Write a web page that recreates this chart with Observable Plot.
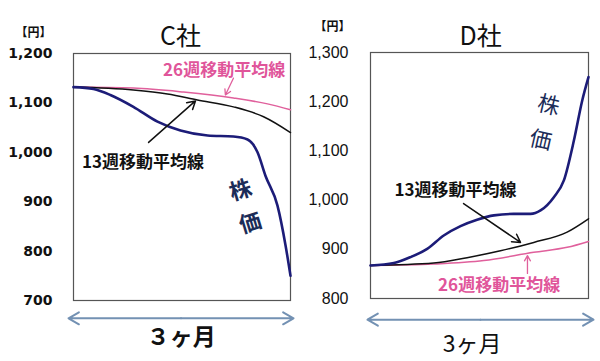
<!DOCTYPE html>
<html><head><meta charset="utf-8">
<script src="https://cdn.jsdelivr.net/npm/d3@7"></script>
<script src="https://cdn.jsdelivr.net/npm/@observablehq/plot@0.6"></script>
<style>
body{margin:0;background:#fff;}
#wrap{position:relative;width:600px;height:361px;overflow:hidden;}
#left,#right{position:absolute;top:0;}
#left{left:0;} #right{left:300px;}
</style></head>
<body><div id="wrap"><div id="left"></div><div id="right"></div></div>
<script>
// ---- C社 data (x = % of 3 months, y = yen)
const cT      = [0, 9.2, 17, 27.6, 38.7, 49.3, 61.8, 73.7, 80.2, 84.8, 88.5, 94, 97.7, 100];
const cPrice  = [1132, 1128, 1116, 1092, 1062, 1044, 1034, 1032, 1026, 1000, 952, 892, 812, 750];
const cMa13T  = [0, 27.6, 43.3, 57.1, 73.7, 87.6, 100];
const cMa13   = [1132, 1126, 1118, 1106, 1092, 1072, 1040];
const cMa26T  = [0, 27.6, 50.7, 73.7, 89.4, 100];
const cMa26   = [1132, 1130, 1122, 1110, 1098, 1086];
const cTicks  = [700, 800, 900, 1000, 1100, 1200];

// ---- D社 data
const dT      = [0, 10.7, 18.3, 26, 33.6, 41.3, 48.9, 56.6, 65.7, 73.4, 78, 84.1, 88.7, 93.3, 97.1, 100];
const dPrice  = [867, 872, 884, 901, 928, 947, 960, 969, 972, 972, 979, 1006, 1040, 1121, 1202, 1250];
const dMa13T  = [0, 29, 44.3, 59.6, 74.9, 90.2, 100];
const dMa13   = [867, 872, 883, 897, 914, 935, 962];
const dMa26T  = [0, 29, 52, 74.9, 90.2, 100];
const dMa26   = [867, 870, 877, 894, 904, 916];
const dTicks  = [800, 900, 1000, 1100, 1200, 1300];

// ---- texts
const titles = ["C社", "D社"];
const unitLabel = "【円】";
const ma13Label = "13週移動平均線";
const ma26Label = "26週移動平均線";
const priceChars = ["株", "価"];
const periodLabels = ["３ヶ月", "3ヶ月"];

const toRows = (xs, ys) => xs.map((x, i) => ({x, y: ys[i]}));
const navy = "#1c1c78", pink = "#e0609c", pinkText = "#e0559a", blue = "#7391b3";

function panel(o) {
  return Plot.plot({
    width: 300, height: 361,
    marginLeft: o.ml, marginRight: o.mr, marginTop: o.mt, marginBottom: o.mb,
    x: {domain: [0, 100], axis: null},
    y: {domain: o.domain},
    style: {fontFamily: o.axisFont, background: "transparent"},
    marks: [
      Plot.frame({stroke: "#555", strokeWidth: 1.2}),
      Plot.axisY(o.ticks, {tickSize: 0, tickPadding: o.pad, tickFormat: d3.format(","),
        fontSize: o.axisSize, fontWeight: o.axisWeight, fill: "#111", label: null}),
      Plot.line(toRows(o.ma26T, o.ma26), {x: "x", y: "y", stroke: pink, strokeWidth: 1.5, curve: "monotone-x"}),
      Plot.line(toRows(o.ma13T, o.ma13), {x: "x", y: "y", stroke: "#111", strokeWidth: 1.5, curve: "monotone-x"}),
      Plot.line(toRows(o.t, o.price), {x: "x", y: "y", stroke: navy, strokeWidth: 2.6, curve: "monotone-x"}),
      // annotations
      Plot.text([o.l26], {x: d => d[0], y: d => d[1], text: [ma26Label], fill: pinkText,
        fontSize: 17, fontWeight: "bold", fontFamily: "Noto Sans CJK JP"}),
      Plot.text([o.l13], {x: d => d[0], y: d => d[1], text: [ma13Label], fill: "#111",
        fontSize: 17, fontWeight: "bold", fontFamily: "Noto Sans CJK JP"}),
      Plot.arrow([o.a26], {x1: d => d[0], y1: d => d[1], x2: d => d[2], y2: d => d[3],
        stroke: pink, strokeWidth: 1.3, headLength: 8}),
      Plot.arrow([o.a13], {x1: d => d[0], y1: d => d[1], x2: d => d[2], y2: d => d[3],
        stroke: "#111", strokeWidth: 1.5, headLength: 9}),
      Plot.text([o.k1], {x: d => d[0], y: d => d[1], text: [priceChars[0]], rotate: o.rot,
        fill: "#1b2c58", fontSize: 22, fontWeight: o.kWeight, fontFamily: "Noto Sans CJK JP"}),
      Plot.text([o.k2], {x: d => d[0], y: d => d[1], text: [priceChars[1]], rotate: o.rot,
        fill: "#1b2c58", fontSize: 22, fontWeight: o.kWeight, fontFamily: "Noto Sans CJK JP"}),
      // title, unit
      Plot.text([o.title], {x: d => d[0], y: d => d[1], text: [o.titleText], fill: "#111",
        fontSize: 25, fontFamily: "Noto Sans CJK JP"}),
      Plot.text([o.unit], {x: d => d[0], y: d => d[1], text: [unitLabel], fill: "#111",
        fontSize: 12, fontWeight: "bold", fontFamily: "Noto Sans CJK JP"}),
      // bottom period arrow (double headed)
      Plot.arrow([o.period], {x1: d => (d[0] + d[1]) / 2, y1: d => d[2], x2: d => d[0], y2: d => d[2],
        stroke: blue, strokeWidth: 2, headLength: 9}),
      Plot.arrow([o.period], {x1: d => (d[0] + d[1]) / 2, y1: d => d[2], x2: d => d[1], y2: d => d[2],
        stroke: blue, strokeWidth: 2, headLength: 9}),
      Plot.text([o.pl], {x: d => d[0], y: d => d[1], text: [o.plText], fill: "#111",
        fontSize: 23, fontWeight: o.plWeight, fontFamily: "Noto Sans CJK JP"})
    ]
  });
}

document.getElementById("left").appendChild(panel({
  ml: 73, mr: 10, mt: 53, mb: 61, domain: [700, 1200], ticks: cTicks, pad: 21,
  axisFont: "DejaVu Sans", axisSize: 14, axisWeight: "bold",
  t: cT, price: cPrice, ma13T: cMa13T, ma13: cMa13, ma26T: cMa26T, ma26: cMa26,
  l26: [69.4, 1166], l13: [32, 980],
  a26: [73.7, 1150, 70.0, 1116], a13: [34.6, 1020, 56.2, 1104],
  k1: [77, 922], k2: [81.6, 856], rot: -17, kWeight: "bold",
  title: [49.3, 1234], titleText: titles[0], unit: [-18.4, 1242],
  period: [-2.3, 101.4, 664], pl: [49.7, 624], plText: periodLabels[0], plWeight: "bold"
}));

document.getElementById("right").appendChild(panel({
  ml: 70, mr: 12, mt: 52, mb: 63, domain: [800, 1300], ticks: dTicks, pad: 22,
  axisFont: "Liberation Sans", axisSize: 16, axisWeight: "normal",
  t: dT, price: dPrice, ma13T: dMa13T, ma13: dMa13, ma26T: dMa26T, ma26: dMa26,
  l26: [59, 826], l13: [39, 1019],
  a26: [72, 851, 72, 887], a13: [42.7, 993, 68.8, 914],
  k1: [81.7, 1192], k2: [78, 1121], rot: 13, kWeight: "normal",
  title: [50.5, 1332], titleText: titles[1], unit: [-17.4, 1351],
  period: [-1.4, 102.3, 757], pl: [46.6, 707], plText: periodLabels[1], plWeight: "normal"
}));
</script></body></html>
